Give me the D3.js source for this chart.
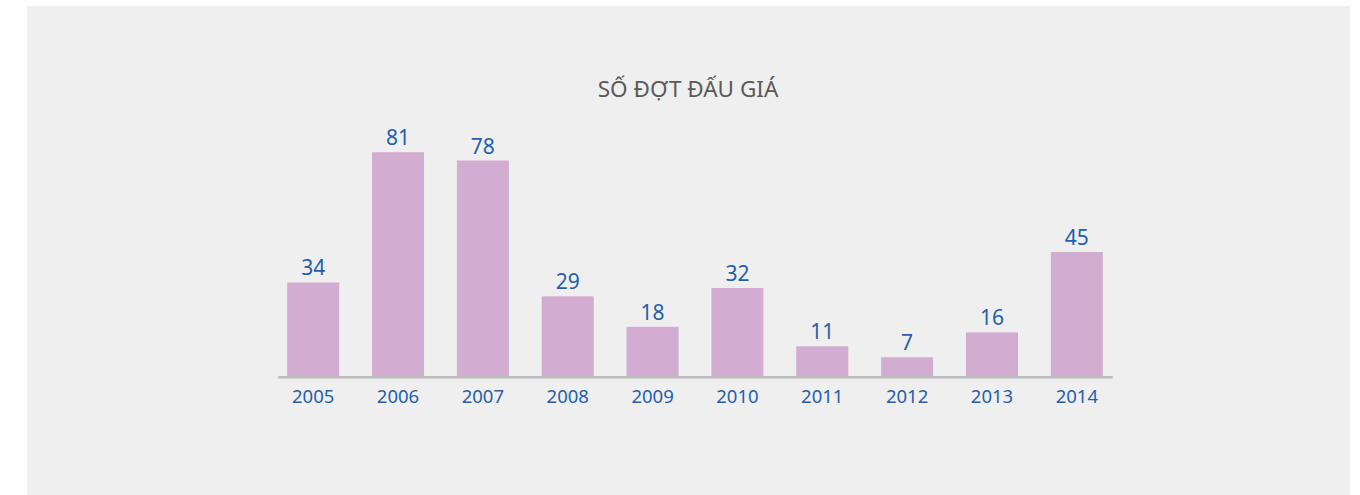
<!DOCTYPE html>
<html>
<head>
<meta charset="utf-8">
<script src="https://cdn.jsdelivr.net/npm/d3@7"></script>
<style>
  html, body { margin: 0; padding: 0; background: #fff; }
  svg { display: block; }
</style>
</head>
<body>
<svg id="chart" width="1360" height="495"></svg>
<script>
// data
var years = ["2005", "2006", "2007", "2008", "2009", "2010", "2011", "2012", "2013", "2014"];
var counts = [34, 81, 78, 29, 18, 32, 11, 7, 16, 45];
var title = "SỐ ĐỢT ĐẤU GIÁ";

var data = years.map(function(y, i) { return { year: y, count: counts[i] }; });

var svg = d3.select("#chart");

// grey panel
svg.append("rect")
  .attr("x", 27).attr("y", 6)
  .attr("width", 1323).attr("height", 495)
  .attr("fill", "#efefef");

svg.append("text")
  .attr("x", 688)
  .attr("y", 97)
  .attr("text-anchor", "middle")
  .attr("font-family", "Noto Sans")
  .attr("font-size", "22.5px")
  .attr("fill", "#595959")
  .text(title);

var baseY = 376.7;

var xScale = d3.scaleBand()
  .domain(years)
  .range([277.7, 1112.3])
  .paddingInner(0.387)
  .paddingOuter(0.1115);

var yScale = d3.scaleLinear()
  .domain([0, 81])
  .range([baseY, 152.2]);

var g = svg.append("g");

g.selectAll(".bar")
  .data(data)
  .enter().append("rect")
  .attr("class", "bar")
  .attr("x", function(d) { return xScale(d.year); })
  .attr("y", function(d) { return yScale(d.count); })
  .attr("width", xScale.bandwidth())
  .attr("height", function(d) { return baseY - yScale(d.count); })
  .attr("fill", "#d3acd1");

g.selectAll(".val")
  .data(data)
  .enter().append("text")
  .attr("class", "val")
  .attr("x", function(d) { return xScale(d.year) + xScale.bandwidth() / 2; })
  .attr("y", function(d) { return yScale(d.count) - 7; })
  .attr("text-anchor", "middle")
  .attr("font-family", "Noto Sans")
  .attr("font-size", "21px")
  .attr("fill", "#1f5fae")
  .text(function(d) { return d.count; });

// axis: only the baseline and the year labels
var axis = g.append("g")
  .attr("transform", "translate(0," + baseY + ")")
  .call(d3.axisBottom(xScale).tickSize(0).tickPadding(0));

axis.select(".domain")
  .attr("stroke", "#bdbdbd")
  .attr("stroke-width", 2.5);

axis.selectAll("text")
  .attr("dy", null)
  .attr("y", 26)
  .attr("font-family", "Noto Sans")
  .attr("font-size", "18.5px")
  .attr("fill", "#1f5fae");
</script>
</body>
</html>
